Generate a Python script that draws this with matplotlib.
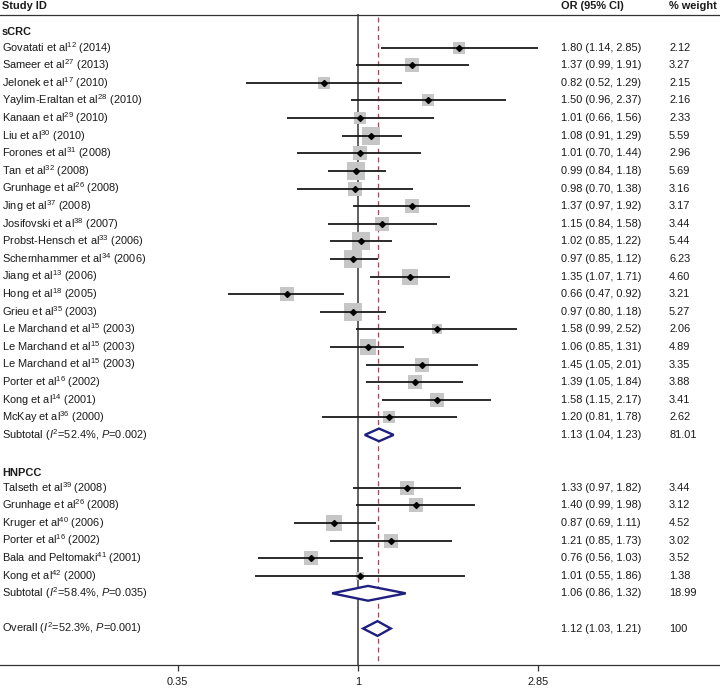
import numpy as np
import matplotlib
matplotlib.use("Agg")
import matplotlib.pyplot as plt
import matplotlib.transforms as mtransforms

plt.rcParams['font.family'] = ['Liberation Sans', 'DejaVu Sans']
plt.rcParams['mathtext.fontset'] = 'custom'
plt.rcParams['mathtext.rm'] = 'Liberation Sans'
plt.rcParams['mathtext.it'] = 'Liberation Sans:italic'

# sCRC studies
scrc_names = ["Govatati et al", "Sameer et al", "Jelonek et al", "Yaylim-Eraltan et al",
              "Kanaan et al", "Liu et al", "Forones et al", "Tan et al", "Grunhage et al",
              "Jing et al", "Josifovski et al", "Probst-Hensch et al", "Schernhammer et al",
              "Jiang et al", "Hong et al", "Grieu et al", "Le Marchand et al",
              "Le Marchand et al", "Le Marchand et al", "Porter et al", "Kong et al",
              "McKay et al"]
scrc_refs = ["12", "27", "17", "28", "29", "30", "31", "32", "26", "37", "38", "33", "34",
             "13", "18", "35", "15", "15", "15", "16", "14", "36"]
scrc_years = [2014, 2013, 2010, 2010, 2010, 2010, 2008, 2008, 2008, 2008, 2007, 2006, 2006,
              2006, 2005, 2003, 2003, 2003, 2003, 2002, 2001, 2000]
scrc_or = [1.80, 1.37, 0.82, 1.50, 1.01, 1.08, 1.01, 0.99, 0.98, 1.37, 1.15, 1.02, 0.97,
           1.35, 0.66, 0.97, 1.58, 1.06, 1.45, 1.39, 1.58, 1.20]
scrc_lo = [1.14, 0.99, 0.52, 0.96, 0.66, 0.91, 0.70, 0.84, 0.70, 0.97, 0.84, 0.85, 0.85,
           1.07, 0.47, 0.80, 0.99, 0.85, 1.05, 1.05, 1.15, 0.81]
scrc_hi = [2.85, 1.91, 1.29, 2.37, 1.56, 1.29, 1.44, 1.18, 1.38, 1.92, 1.58, 1.22, 1.12,
           1.71, 0.92, 1.18, 2.52, 1.31, 2.01, 1.84, 2.17, 1.78]
scrc_w = [2.12, 3.27, 2.15, 2.16, 2.33, 5.59, 2.96, 5.69, 3.16, 3.17, 3.44, 5.44, 6.23,
          4.60, 3.21, 5.27, 2.06, 4.89, 3.35, 3.88, 3.41, 2.62]

# HNPCC studies
hnpcc_names = ["Talseth et al", "Grunhage et al", "Kruger et al", "Porter et al",
               "Bala and Peltomaki", "Kong et al"]
hnpcc_refs = ["39", "26", "40", "16", "41", "42"]
hnpcc_years = [2008, 2008, 2006, 2002, 2001, 2000]
hnpcc_or = [1.33, 1.40, 0.87, 1.21, 0.76, 1.01]
hnpcc_lo = [0.97, 0.99, 0.69, 0.85, 0.56, 0.55]
hnpcc_hi = [1.82, 1.98, 1.11, 1.73, 1.03, 1.86]
hnpcc_w = [3.44, 3.12, 4.52, 3.02, 3.52, 1.38]

# pooled estimates: sCRC, HNPCC, overall
pooled_or = [1.13, 1.06, 1.12]
pooled_lo = [1.04, 0.86, 1.03]
pooled_hi = [1.23, 1.32, 1.21]
pooled_w = ["81.01", "18.99", "100"]
pooled_i2 = ["52.4", "58.4", "52.3"]
pooled_p = ["0.002", "0.035", "0.001"]

xticks = [0.35, 1, 2.85]

TXT = '#1a1a1a'
FS = 7.9

fig = plt.figure(figsize=(7.2, 6.88), dpi=100)
ax = fig.add_axes([0, 0, 1, 1])
ax.set_xscale('log')
ax.set_xlim(0.1243, 8.23)
ax.set_ylim(36.38, -2.71)
for s in ['top', 'left', 'right']:
    ax.spines[s].set_visible(False)
ax.yaxis.set_visible(False)
ax.spines['bottom'].set_position(('data', 35.07))
ax.spines['bottom'].set_color('#333333')
ax.spines['bottom'].set_linewidth(0.9)
ax.set_xticks(xticks)
ax.set_xticklabels(['0.35', '1', '2.85'])
ax.minorticks_off()
ax.tick_params(axis='x', length=4, width=0.9, color='#333333', labelsize=FS,
               labelcolor=TXT, pad=5)

tr = mtransforms.blended_transform_factory(ax.transAxes, ax.transData)
X_LAB, X_OR, X_W = 2 / 720, 561 / 720, 669 / 720


def fmt_ci(o, l, h):
    return f"{o:.2f} ({l:.2f}, {h:.2f})"


def draw_study(row, name, ref, year, o, lo, hi, w):
    ax.scatter([o], [row], marker='s', s=30 * w, color='#c6c6c6', lw=0, zorder=2)
    ax.plot([lo, hi], [row, row], color='#1a1a1a', lw=1.3, zorder=3,
            solid_capstyle='butt')
    ax.plot([o], [row], marker='D', ms=3.0, color='black', zorder=4)
    ax.text(X_LAB, row, name + r"$^{\mathregular{" + ref + "}}$" + f" ({year})",
            transform=tr, ha='left', va='center', fontsize=FS, color=TXT)
    ax.text(X_OR, row, fmt_ci(o, lo, hi), transform=tr, ha='left', va='center',
            fontsize=FS, color=TXT)
    ax.text(X_W, row, f"{w:.2f}", transform=tr, ha='left', va='center',
            fontsize=FS, color=TXT)


def draw_pooled(row, k, label, h):
    o, lo, hi = pooled_or[k], pooled_lo[k], pooled_hi[k]
    ax.fill([lo, o, hi, o], [row, row - h, row, row + h], facecolor='white',
            edgecolor='#1f1f80', lw=1.7, zorder=5)
    ax.text(X_LAB, row, label + r" ($\it{I}^{2}$=" + pooled_i2[k] + r"%, $\it{P}$=" +
            pooled_p[k] + ")", transform=tr, ha='left', va='center', fontsize=FS, color=TXT)
    ax.text(X_OR, row, fmt_ci(o, lo, hi), transform=tr, ha='left', va='center',
            fontsize=FS, color=TXT)
    ax.text(X_W, row, pooled_w[k], transform=tr, ha='left', va='center',
            fontsize=FS, color=TXT)


# headers
ax.text(X_LAB, -2.37, "Study ID", transform=tr, ha='left', va='center',
        fontsize=FS, fontweight='bold', color=TXT)
ax.text(X_OR, -2.37, "OR (95% CI)", transform=tr, ha='left', va='center',
        fontsize=FS, fontweight='bold', color=TXT)
ax.text(X_W, -2.37, "% weight", transform=tr, ha='left', va='center',
        fontsize=FS, fontweight='bold', color=TXT)
ax.plot([0, 1], [-1.86, -1.86], transform=tr, color='#333333', lw=0.9, clip_on=False)

# reference lines
ax.plot([1, 1], [-1.86, 35.07], color='#555555', lw=1.3, zorder=1)
ax.plot([pooled_or[2]] * 2, [-1.75, 35.07], color='#a04a55', lw=0.9,
        dashes=(4, 3), zorder=1)

# sCRC
ax.text(X_LAB, -0.9, "sCRC", transform=tr, ha='left', va='center', fontsize=FS,
        fontweight='bold', color=TXT)
for i in range(len(scrc_names)):
    draw_study(i, scrc_names[i], scrc_refs[i], scrc_years[i], scrc_or[i],
               scrc_lo[i], scrc_hi[i], scrc_w[i])
draw_pooled(len(scrc_names), 0, "Subtotal", 0.36)

# HNPCC
r0 = len(scrc_names) + 3
ax.text(X_LAB, r0 - 0.85, "HNPCC", transform=tr, ha='left', va='center', fontsize=FS,
        fontweight='bold', color=TXT)
for i in range(len(hnpcc_names)):
    draw_study(r0 + i, hnpcc_names[i], hnpcc_refs[i], hnpcc_years[i], hnpcc_or[i],
               hnpcc_lo[i], hnpcc_hi[i], hnpcc_w[i])
draw_pooled(r0 + len(hnpcc_names), 1, "Subtotal", 0.42)
draw_pooled(r0 + len(hnpcc_names) + 2, 2, "Overall", 0.42)

fig.savefig("out.png", dpi=100)
